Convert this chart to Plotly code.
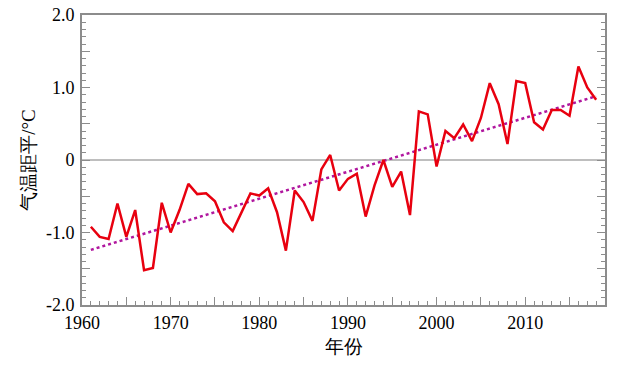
import plotly.graph_objects as go

years = list(range(1961, 2019))
anomaly = [-0.92, -1.06, -1.09, -0.60, -1.06, -0.69, -1.52, -1.49, -0.59, -1.00,
           -0.69, -0.33, -0.47, -0.46, -0.57, -0.86, -0.98, -0.73, -0.46, -0.49,
           -0.39, -0.72, -1.25, -0.42, -0.58, -0.84, -0.13, 0.07, -0.42, -0.26,
           -0.19, -0.78, -0.35, 0.00, -0.37, -0.16, -0.76, 0.67, 0.63, -0.09,
           0.40, 0.30, 0.49, 0.26, 0.58, 1.06, 0.77, 0.22, 1.09, 1.06,
           0.52, 0.42, 0.69, 0.69, 0.61, 1.29, 1.00, 0.83]
trend_years = [1961, 2018]
trend_values = [-1.24, 0.88]

y_tickvals = [2.0, 1.5, 1.0, 0.5, 0.0, -0.5, -1.0, -1.5, -2.0]
y_ticktext = ["2.0", "", "1.0", "", "0", "", "-1.0", "", "-2.0"]
x_tickvals = list(range(1960, 2020, 5))
x_ticktext = ["1960", "", "1970", "", "1980", "", "1990", "", "2000", "", "2010", ""]

serif = "Liberation Serif"
axis_col = "#8c8c8c"
tfont = dict(family=serif, size=18, color="#000")
title_font = dict(family=serif, size=19, color="#000")

fig = go.Figure()
fig.add_trace(go.Scatter(x=[1960, 2019], y=[0, 0], mode="lines",
                         line=dict(color="#7f7f7f", width=1.2), hoverinfo="skip", showlegend=False))
fig.add_trace(go.Scatter(x=trend_years, y=trend_values, mode="lines",
                         line=dict(color="#B0169E", width=2.5, dash="dot"), showlegend=False))
fig.add_trace(go.Scatter(x=years, y=anomaly, mode="lines",
                         line=dict(color="#E8000F", width=2.5), showlegend=False))

fig.update_layout(
    template="none",
    width=640, height=365,
    margin=dict(l=74, r=43, t=7, b=68, autoexpand=False),
    paper_bgcolor="white", plot_bgcolor="white",
    font=tfont,
    xaxis=dict(range=[1960, 2019], tickmode="array", tickvals=x_tickvals, ticktext=x_ticktext,
               tickfont=tfont,
               ticks="inside", ticklen=8, tickcolor=axis_col, tickwidth=1,
               showline=True, linecolor=axis_col, linewidth=2, mirror=True,
               showgrid=False, zeroline=False, automargin=False, ticklabeloverflow="allow",
               minor=dict(dtick=1, ticks="inside", ticklen=4, tickcolor=axis_col, showgrid=False),
               title=dict(text="年份", font=title_font, standoff=8)),
    yaxis=dict(range=[-2.0, 2.0], tickmode="array", tickvals=y_tickvals, ticktext=y_ticktext,
               tickfont=tfont, ticklabelstandoff=2,
               ticks="inside", ticklen=8, tickcolor=axis_col, tickwidth=1,
               showline=True, linecolor=axis_col, linewidth=2, mirror="ticks",
               showgrid=False, zeroline=False, automargin=False, ticklabeloverflow="allow",
               minor=dict(dtick=0.1, tick0=0, ticks="inside", ticklen=4, tickcolor=axis_col, showgrid=False),
               title=dict(text="气温距平/°C", font=title_font, standoff=5)),
)

fig.write_html("out.html")
